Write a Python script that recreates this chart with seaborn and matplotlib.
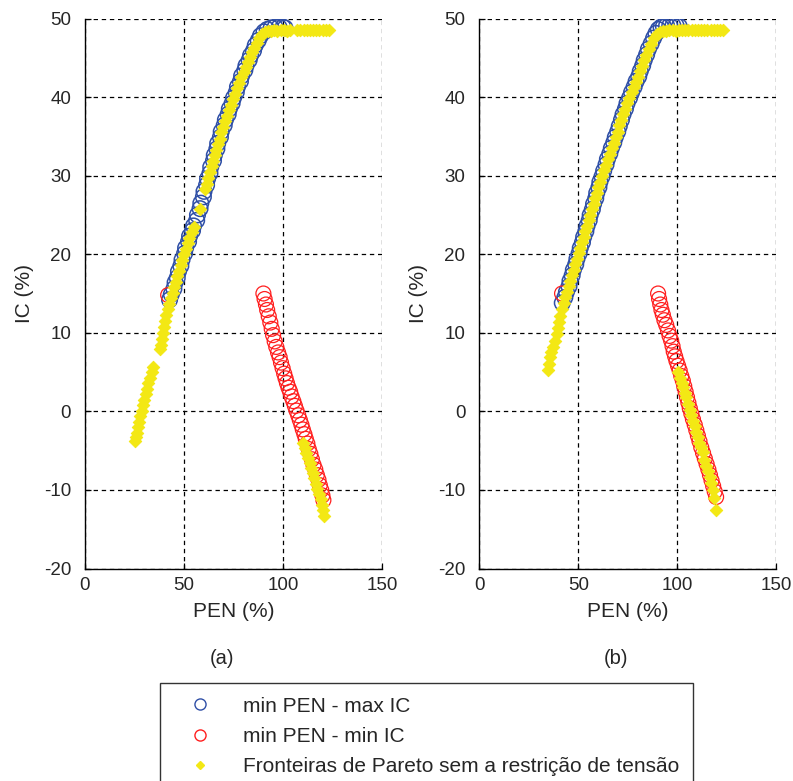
import matplotlib
matplotlib.use("Agg")
import matplotlib.pyplot as plt
import seaborn as sns
from matplotlib.lines import Line2D

# ---- data: PEN (%) vs IC (%) ----
# panel (a)
a_blue_x = [42.7, 43.6, 44.9, 45.5, 46.6, 47.2, 48.4, 49.0, 50.3, 50.8, 52.3, 52.8, 54.3, 54.8,
            56.4, 56.8, 58.1, 58.5, 59.8, 60.1, 61.4, 61.9, 63.1, 63.5, 64.9, 65.3, 66.6, 67.0,
            68.4, 68.8, 70.3, 70.9, 72.3, 72.9, 74.3, 75.0, 76.4, 77.0, 78.5, 79.1, 80.7, 81.3,
            82.9, 83.6, 85.1, 86.0, 87.5, 88.6, 90.4, 92.0, 94.0, 96.0, 98.0, 100.0, 101.0]
a_blue_y = [14.2, 14.9, 15.6, 16.4, 17.0, 17.8, 18.5, 19.3, 20.1, 20.8, 21.6, 22.3, 23.0, 23.6,
            24.3, 25.0, 25.8, 26.5, 27.3, 28.0, 28.8, 29.6, 30.3, 31.1, 31.9, 32.6, 33.4, 34.1,
            34.9, 35.6, 36.4, 37.1, 37.8, 38.5, 39.2, 39.9, 40.6, 41.3, 42.0, 42.7, 43.4, 44.0,
            44.7, 45.3, 45.9, 46.6, 47.2, 47.8, 48.3, 48.6, 48.8, 48.9, 48.9, 48.9, 48.8]

a_red_x = [42.0, 90.1, 90.7, 91.4, 92.0, 92.8, 93.6, 94.3, 95.0, 95.8, 96.6, 97.5, 98.3, 99.0,
           99.8, 100.6, 101.3, 102.0, 102.8, 103.6, 104.3, 105.2, 106.0, 106.8, 107.7, 108.5,
           109.3, 110.0, 110.8, 111.5, 112.3, 113.0, 113.8, 114.6, 115.4, 116.3, 117.1, 117.9,
           118.6, 119.3, 119.9, 120.4]
a_red_y = [14.8, 15.0, 14.3, 13.6, 12.9, 12.1, 11.3, 10.5, 9.7, 8.9, 8.2, 7.5, 6.9, 6.2,
           5.5, 4.8, 4.2, 3.6, 3.0, 2.5, 1.9, 1.3, 0.7, 0.1, -0.5, -1.1,
           -1.7, -2.3, -2.9, -3.5, -4.1, -4.8, -5.4, -6.1, -6.8, -7.4, -8.1, -8.7,
           -9.4, -10.0, -10.7, -11.3]

a_yel_x = [25.5, 25.9, 26.3, 26.8, 27.4, 28.0, 28.6, 29.2, 29.9, 30.6, 31.3, 31.9, 32.7, 33.6, 34.4,
           37.8, 38.2, 38.7, 39.3, 39.9, 40.5, 41.1, 41.8,
           42.6, 43.4, 44.2, 45.0, 45.8, 46.6, 47.5, 48.3, 49.2, 50.0, 50.9, 51.8, 52.7, 53.8, 54.9,
           57.9,
           60.6, 61.4, 62.2, 63.1, 63.9, 64.7, 65.5, 66.3, 67.1, 68.0, 68.9, 69.8, 70.8, 71.8, 72.8,
           73.8, 74.9, 75.9, 76.9, 78.0, 79.0, 80.1, 81.2, 82.3, 83.4, 84.5, 85.6, 86.8, 88.0, 89.3,
           90.8, 92.4, 94.0, 95.6, 97.2, 98.8, 100.4, 102.0, 103.5,
           107.2, 108.8, 110.4, 112.0, 113.6, 115.2, 116.8, 118.4, 120.0, 121.6, 123.2,
           110.2, 111.0, 111.8, 112.6, 113.4, 114.2, 115.0, 115.8, 116.6, 117.4, 118.2, 119.0,
           119.7, 120.3, 120.9]
a_yel_y = [-3.8, -3.3, -2.7, -2.0, -1.3, -0.6, 0.1, 0.8, 1.5, 2.2, 2.9, 3.6, 4.3, 5.0, 5.7,
           8.0, 8.5, 9.2, 10.0, 10.8, 11.5, 12.3, 13.0,
           13.7, 14.4, 15.1, 15.8, 16.5, 17.2, 17.9, 18.6, 19.3, 20.0, 20.7, 21.4, 22.1, 22.8, 23.5,
           25.7,
           28.3, 29.0, 29.7, 30.5, 31.2, 31.9, 32.6, 33.3, 34.0, 34.7, 35.5, 36.2, 36.9, 37.6, 38.3,
           39.0, 39.7, 40.4, 41.1, 41.8, 42.5, 43.2, 43.8, 44.5, 45.1, 45.7, 46.3, 46.9, 47.5, 48.0,
           48.3, 48.4, 48.4, 48.5, 48.4, 48.5, 48.5, 48.4, 48.5,
           48.5, 48.6, 48.5, 48.6, 48.6, 48.5, 48.6, 48.6, 48.6, 48.6, 48.6,
           -4.0, -4.6, -5.3, -5.9, -6.6, -7.2, -7.9, -8.5, -9.2, -9.9, -10.5, -11.2,
           -11.9, -12.6, -13.3]

# panel (b)
b_blue_x = [41.9, 43.2, 44.0, 45.3, 45.8, 46.9, 47.5, 48.7, 49.3, 50.4, 51.0, 52.1, 52.7, 53.8,
            54.4, 55.5, 56.0, 57.1, 57.7, 58.8, 59.3, 60.4, 60.9, 62.0, 62.8, 64.0, 64.7, 65.9,
            66.7, 67.9, 68.7, 69.9, 70.7, 71.8, 72.6, 73.8, 74.6, 75.9, 76.9, 78.2, 79.2, 80.5,
            81.3, 82.5, 83.3, 84.5, 85.4, 86.8, 88.0, 89.2, 90.4, 91.8, 93.0, 94.6, 96.2, 97.8,
            99.4, 101.0]
b_blue_y = [13.8, 14.5, 15.2, 15.9, 16.6, 17.3, 18.0, 18.7, 19.4, 20.1, 20.8, 21.5, 22.2, 22.9,
            23.6, 24.3, 25.0, 25.7, 26.4, 27.1, 27.8, 28.5, 29.2, 29.9, 30.6, 31.4, 32.1, 32.8,
            33.5, 34.2, 34.9, 35.6, 36.3, 37.1, 37.8, 38.5, 39.2, 39.9, 40.6, 41.3, 42.0, 42.6,
            43.3, 44.0, 44.7, 45.4, 46.1, 46.8, 47.5, 48.1, 48.6, 48.9, 49.0, 49.1, 49.1, 49.1,
            49.1, 49.0]

b_red_x = [41.8, 90.3, 90.8, 91.4, 92.0, 92.7, 93.5, 94.4, 95.3, 96.1, 96.9, 97.6, 98.2, 98.9,
           99.6, 100.4, 101.2, 102.0, 102.8, 103.5, 104.2, 104.9, 105.6, 106.3, 107.1, 107.9,
           108.8, 109.6, 110.4, 111.2, 112.1, 113.0, 113.9, 114.8, 115.7, 116.5, 117.3, 118.1,
           118.9, 119.6]
b_red_y = [15.0, 15.0, 14.3, 13.6, 12.9, 12.3, 11.6, 11.0, 10.3, 9.6, 9.0, 8.3, 7.6, 7.0,
           6.4, 5.8, 5.2, 4.5, 3.9, 3.2, 2.5, 1.8, 1.1, 0.4, -0.3, -1.0,
           -1.7, -2.4, -3.1, -3.8, -4.6, -5.3, -6.0, -6.7, -7.4, -8.1, -8.8, -9.5,
           -10.2, -10.9]

b_yel_x = [34.9, 35.0, 35.6, 36.4, 37.4, 38.2, 39.2, 39.9, 40.5, 41.0, 41.8, 42.6,
           43.4, 44.2, 45.1, 45.9, 46.8, 47.6, 48.5, 49.4, 50.2, 51.1, 52.0, 52.8, 53.6, 54.5,
           55.3, 56.1, 56.9, 57.8, 58.6, 59.4, 60.2, 61.0, 61.9, 62.9, 63.8, 64.8, 65.8, 66.8,
           67.8, 68.8, 69.8, 70.8, 71.7, 72.7, 73.7, 74.7, 75.8, 77.0, 78.1, 79.3, 80.4, 81.4,
           82.4, 83.4, 84.4, 85.5, 86.7, 88.0, 89.6, 91.2, 92.8, 94.4, 96.0, 97.6, 99.2, 100.8,
           102.4, 104.0, 105.6, 107.2, 108.8, 110.4, 112.0, 113.6, 115.2, 116.8, 118.4, 120.0,
           121.5, 123.0,
           100.3, 101.3, 102.2, 102.9, 103.8, 104.6, 105.4, 106.2, 107.0, 107.8, 108.7, 109.6,
           110.4, 111.2, 112.0, 112.9, 113.7, 114.6, 115.4, 116.3, 117.1, 117.9, 118.7, 119.6]
b_yel_y = [5.3, 6.0, 6.9, 7.6, 8.2, 9.0, 9.9, 10.6, 11.4, 12.2, 13.0, 13.8,
           14.5, 15.2, 15.9, 16.6, 17.3, 18.0, 18.7, 19.4, 20.1, 20.8, 21.5, 22.2, 22.9, 23.6,
           24.3, 25.0, 25.7, 26.4, 27.1, 27.8, 28.5, 29.2, 29.9, 30.7, 31.4, 32.1, 32.8, 33.5,
           34.2, 34.9, 35.6, 36.4, 37.1, 37.8, 38.5, 39.2, 39.9, 40.6, 41.3, 41.9, 42.6, 43.3,
           44.0, 44.7, 45.4, 46.1, 46.8, 47.5, 48.0, 48.3, 48.4, 48.4, 48.5, 48.5, 48.4, 48.5,
           48.5, 48.5, 48.6, 48.5, 48.6, 48.6, 48.5, 48.6, 48.6, 48.6, 48.6, 48.6,
           48.6, 48.6,
           5.0, 4.2, 3.6, 3.1, 2.4, 1.8, 1.0, 0.2, -0.5, -1.2, -1.9, -2.6,
           -3.3, -4.0, -4.5, -5.2, -6.2, -6.9, -7.6, -8.3, -9.1, -10.0, -11.0, -12.5]

panels = [
    ("(a)", a_blue_x, a_blue_y, a_red_x, a_red_y, a_yel_x, a_yel_y),
    ("(b)", b_blue_x, b_blue_y, b_red_x, b_red_y, b_yel_x, b_yel_y),
]
labels = ["min PEN - max IC", "min PEN - min IC",
          "Fronteiras de Pareto sem a restrição de tensão"]

BLUE = "#2f4fa6"
RED = "#ff1e1e"
YELLOW = "#f3e814"
TXT = "#262626"

sns.set_theme(style="white")
plt.rcParams["font.family"] = ["Liberation Sans", "DejaVu Sans"]
plt.rcParams["axes.unicode_minus"] = False

fig = plt.figure(figsize=(7.93, 7.81), dpi=100)
W, H = 793, 781
lefts = [85, 479.3]
ax_w = 297
top_px, bot_px = 18.5, 568.5

for i, (tag, bx, by, rx, ry, yx, yy) in enumerate(panels):
    ax = fig.add_axes([lefts[i] / W, 1 - bot_px / H, ax_w / W, (bot_px - top_px) / H])
    sns.scatterplot(x=bx, y=by, ax=ax, marker="o", s=125, facecolor="none",
                    edgecolor=BLUE, linewidth=1.1, zorder=3)
    sns.scatterplot(x=rx, y=ry, ax=ax, marker="o", s=115, facecolor="none",
                    edgecolor=RED, linewidth=0.9, zorder=4)
    sns.scatterplot(x=yx, y=yy, ax=ax, marker="D", s=40, color=YELLOW,
                    edgecolor=YELLOW, linewidth=0.7, zorder=5)
    ax.set_xlim(0, 150)
    ax.set_ylim(-20, 50)
    ax.set_xticks([0, 50, 100, 150])
    ax.set_yticks(range(-20, 51, 10))
    ax.grid(True, color="black", linestyle=(0, (3.5, 3)), linewidth=0.9)
    ax.set_axisbelow(True)
    for side in ["top", "right"]:
        ax.spines[side].set_visible(False)
    for side in ["left", "bottom"]:
        ax.spines[side].set_color("black")
        ax.spines[side].set_linewidth(1.0)
    ax.tick_params(direction="in", length=4, width=0.9, color="black",
                   labelsize=13.5, labelcolor=TXT, left=True, bottom=True)
    ax.tick_params(axis="y", pad=10)
    ax.tick_params(axis="x", pad=6)
    ax.set_xlabel("PEN (%)", fontsize=15, color=TXT, labelpad=6)
    ax.set_ylabel("IC (%)", fontsize=15, color=TXT, labelpad=7)
    fig.text((lefts[i] + 137) / W, 1 - 658 / H, tag, fontsize=14.5, color=TXT,
             ha="center", va="center")

handles = [
    Line2D([], [], linestyle="none", marker="o", markersize=8, markerfacecolor="none",
           markeredgecolor=BLUE, markeredgewidth=1.0),
    Line2D([], [], linestyle="none", marker="o", markersize=8, markerfacecolor="none",
           markeredgecolor=RED, markeredgewidth=1.0),
    Line2D([], [], linestyle="none", marker="D", markersize=4.5, markerfacecolor=YELLOW,
           markeredgecolor=YELLOW),
]
leg = fig.legend(handles, labels, loc="upper left",
                 bbox_to_anchor=(160 / W, 1 - 683 / H), bbox_transform=fig.transFigure,
                 borderaxespad=0, frameon=True, fancybox=False, edgecolor="black",
                 fontsize=15, handlelength=2.5, handletextpad=0.82, borderpad=0.65,
                 labelspacing=0.55)
leg.get_frame().set_linewidth(1.0)
for t in leg.get_texts():
    t.set_color(TXT)

fig.savefig("out.png", dpi=100)
